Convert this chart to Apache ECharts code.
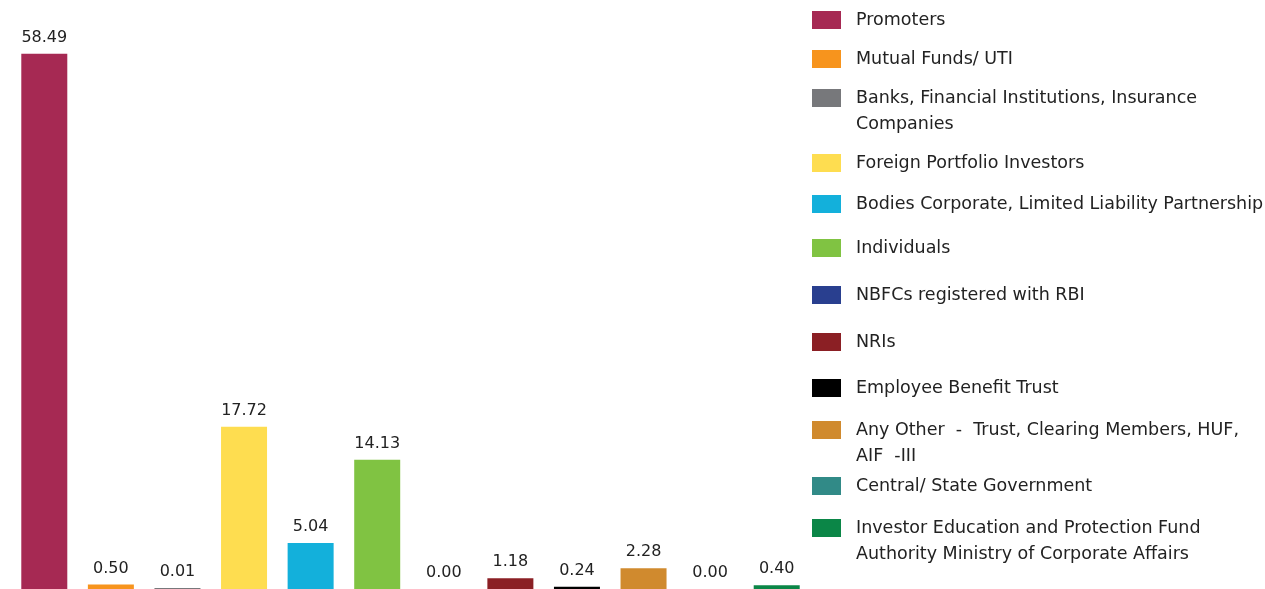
<!DOCTYPE html>
<html>
<head>
<meta charset="utf-8">
<script src="https://cdn.jsdelivr.net/npm/echarts@6/dist/echarts.min.js"></script>
<style>
    html, body { margin: 0; padding: 0; background: #fff; }
    #chart { width: 1265px; height: 589px; }
</style>
</head>
<body>
<div id="chart"></div>
<script>
// shareholding categories (same order as the bars)
const categories = [
    'Promoters',
    'Mutual Funds/ UTI',
    'Banks, Financial Institutions, Insurance Companies',
    'Foreign Portfolio Investors',
    'Bodies Corporate, Limited Liability Partnership',
    'Individuals',
    'NBFCs registered with RBI',
    'NRIs',
    'Employee Benefit Trust',
    'Any Other - Trust, Clearing Members, HUF, AIF -III',
    'Central/ State Government',
    'Investor Education and Protection Fund Authority Ministry of Corporate Affairs'
];

// % of shareholding
const shareValues = [58.49, 0.50, 0.01, 17.72, 5.04, 14.13, 0.00, 1.18, 0.24, 2.28, 0.00, 0.40];

const barColors = [
    '#A62953', '#F7941D', '#77787B', '#FEDD50', '#13B0DB', '#80C342',
    '#293F8F', '#8B1F24', '#000000', '#D08A2E', '#318A87', '#0B8647'
];

// legend text as it wraps in the original
const legendLabels = [
    'Promoters',
    'Mutual Funds/ UTI',
    'Banks, Financial Institutions, Insurance\nCompanies',
    'Foreign Portfolio Investors',
    'Bodies Corporate, Limited Liability Partnership',
    'Individuals',
    'NBFCs registered with RBI',
    'NRIs',
    'Employee Benefit Trust',
    'Any Other  -  Trust, Clearing Members, HUF,\nAIF  -III',
    'Central/ State Government',
    'Investor Education and Protection Fund\nAuthority Ministry of Corporate Affairs'
];

// vertical centre of each legend swatch (layout only)
const legendCenters = [20, 59, 98, 163, 204, 248, 295, 342, 388, 430, 486, 528];

const chart = echarts.init(document.getElementById('chart'));

const series = categories.map((name, i) => ({
    name: name,
    type: 'bar',
    stack: 'share',
    barWidth: 46,
    barMinHeight: shareValues[i] > 0 ? 1 : 0,
    itemStyle: { color: barColors[i] },
    label: {
        show: true,
        position: 'top',
        distance: 8,
        fontFamily: 'DejaVu Sans',
        fontSize: 16,
        color: '#222',
        formatter: p => Number(p.value).toFixed(2)
    },
    data: shareValues.map((v, j) => (j === i ? v : '-'))
}));

const legends = categories.map((name, i) => {
    const wrapped = legendLabels[i].indexOf('\n') >= 0;
    // a blank first line keeps the first text line level with the swatch
    const text = wrapped ? ' \n' + legendLabels[i] : legendLabels[i];
    return {
        data: [name],
        left: 812,
        top: legendCenters[i] - (wrapped ? 39 : 13),
        padding: 0,
        icon: 'rect',
        itemWidth: 29,
        itemHeight: 18,
        selectedMode: false,
        formatter: () => text,
        textStyle: {
            fontFamily: 'DejaVu Sans',
            fontSize: 17.5,
            color: '#222',
            lineHeight: 26,
            padding: [0, 0, 0, 10]
        }
    };
});

chart.setOption({
    animation: false,
    grid: { left: 11, width: 799, top: 40, bottom: 0 },
    xAxis: {
        type: 'category',
        data: categories,
        show: false
    },
    yAxis: {
        type: 'value',
        min: 0,
        max: 60,
        show: false
    },
    legend: legends,
    series: series
});
</script>
</body>
</html>
